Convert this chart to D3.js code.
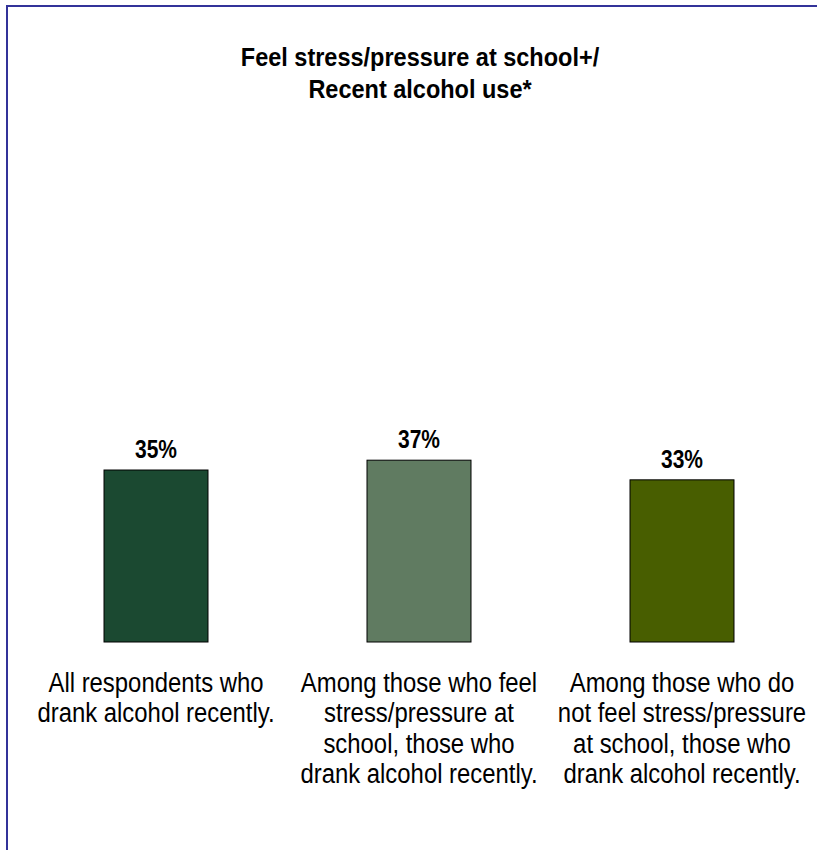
<!DOCTYPE html>
<html>
<head>
<meta charset="utf-8">
<script src="https://cdn.jsdelivr.net/npm/d3@7"></script>
<style>
  html, body { margin: 0; padding: 0; background: #ffffff; }
  svg { display: block; }
</style>
</head>
<body>
<div id="chart"></div>
<script>
// ---- Data ----
const titleLines = ["Feel stress/pressure at school+/", "Recent alcohol use*"];
const categories = ["all", "stress", "nostress"];
const categoryLabels = [
  ["All respondents who", "drank alcohol recently."],
  ["Among those who feel", "stress/pressure at", "school, those who", "drank alcohol recently."],
  ["Among those who do", "not feel stress/pressure", "at school, those who", "drank alcohol recently."]
];
const values = [35, 37, 33];
const barColors = ["#1b4931", "#607b61", "#485e00"];

// ---- Layout ----
const W = 817, H = 850;
const FONT = "'Liberation Sans', Arial, Helvetica, sans-serif";
const svg = d3.select("#chart").append("svg").attr("width", W).attr("height", H);

// frame
svg.append("rect")
  .attr("x", 7).attr("y", 6)
  .attr("width", W + 20).attr("height", H + 20)
  .attr("fill", "#ffffff")
  .attr("stroke", "#333399").attr("stroke-width", 2);

const x = d3.scaleBand()
  .domain(categories)
  .range([24.5, 813.5])
  .paddingInner(0.6046)
  .paddingOuter(0.3023);

const y = d3.scaleLinear().domain([0, 100]).range([642, 150.6]);

// helper: horizontally condensed multi-line text
function condensedText(parent, cx, baseY, lines, sx, size, weight, lineH) {
  const g = parent.append("g")
    .attr("transform", `translate(${cx},${baseY}) scale(${sx},1)`);
  g.append("text")
    .attr("text-anchor", "middle")
    .style("font-family", FONT)
    .style("font-weight", weight)
    .style("font-size", size + "px")
    .attr("fill", "#000")
    .selectAll("tspan")
    .data(lines)
    .join("tspan")
    .attr("x", 0)
    .attr("y", (d, j) => j * lineH)
    .text(d => d);
}

// title
condensedText(svg, 420, 66, titleLines, 0.94, 25, "bold", 32);

// bars
svg.append("g").selectAll("rect")
  .data(values)
  .join("rect")
  .attr("x", (d, i) => x(categories[i]))
  .attr("y", d => y(d))
  .attr("width", x.bandwidth())
  .attr("height", d => y(0) - y(d))
  .attr("fill", (d, i) => barColors[i])
  .attr("stroke", "#000")
  .attr("stroke-width", 1);

// value labels
const valG = svg.append("g");
values.forEach((v, i) => {
  condensedText(valG, x(categories[i]) + x.bandwidth() / 2, y(v) - 12, [v + "%"], 0.84, 25, "bold", 0);
});

// category labels
const catG = svg.append("g");
categoryLabels.forEach((lines, i) => {
  condensedText(catG, x(categories[i]) + x.bandwidth() / 2, 692, lines, 0.885, 27, "normal", 30.5);
});
</script>
</body>
</html>
